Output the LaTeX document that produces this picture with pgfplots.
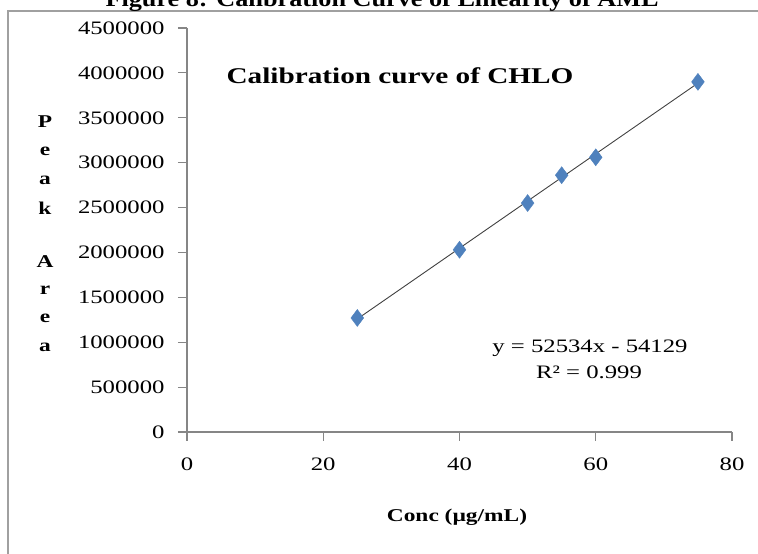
\documentclass[border=0pt]{standalone}
\usepackage{fontspec}
\setmainfont{Liberation Serif}[FakeStretch=1.3]
\newfontfamily\capfont{Liberation Serif}[FakeStretch=1.15]
\usepackage{pgfplots}
\pgfplotsset{compat=1.18}
\definecolor{axisgray}{RGB}{134,134,134}
\definecolor{markblue}{RGB}{79,129,189}
\definecolor{framegray}{RGB}{160,160,160}

\begin{document}
\begin{tikzpicture}[x=1pt,y=1pt]
\useasboundingbox (0,0) rectangle (758,554);
\clip (0,0) rectangle (758,554);
% chart area border
\draw[framegray, line width=2pt] (8,-5) -- (8,543) -- (765,543);
% figure caption above the chart
\node[font=\capfont\bfseries\fontsize{22.8}{22.8}\selectfont, anchor=base, inner sep=0pt] at (382,547)
  {Figure 8: Calibration Curve of Linearity of AML};
\begin{axis}[
  at={(187pt,122pt)}, anchor=south west,
  scale only axis, width=545pt, height=404pt,
  xmin=0, xmax=80, ymin=0, ymax=4500000,
  axis lines*=left,
  axis line style={axisgray, line width=1.2pt},
  every tick/.style={axisgray, line width=1.2pt},
  tick align=outside, major tick length=9pt,
  xtick={0,20,...,80},
  ytick={0,500000,...,4500000},
  scaled y ticks=false,
  /pgf/number format/fixed,
  /pgf/number format/1000 sep={},
  /pgf/number format/assume math mode=true,
  tick label style={font=\fontsize{19}{19}\selectfont, black},
  xticklabel style={yshift=-13pt},
  yticklabel style={xshift=-10pt},
  clip=false,
]
% least-squares line y = 52534x - 54129
\addplot[black!75, line width=0.9pt] coordinates {(25,1259221) (75,3885921)};
\addplot[only marks, mark=diamond*, mark size=8.5pt,
  mark options={draw=markblue, fill=markblue}] coordinates {
  (25,1270000) (40,2030000) (50,2550000) (55,2860000) (60,3060000) (75,3900000)
};
\end{axis}
% chart title
\node[font=\bfseries\fontsize{22.5}{22.5}\selectfont] at (400,478) {Calibration curve of CHLO};
% regression equation
\node[font=\fontsize{19}{19}\selectfont] at (590,206) {y = 52534x - 54129};
\node[font=\fontsize{19}{19}\selectfont] at (589,182) {R² = 0.999};
% axis titles
\node[font=\bfseries\fontsize{18}{18}\selectfont] at (457,37) {Conc (µg/mL)};
\begin{scope}[every node/.style={font=\bfseries\fontsize{18}{18}\selectfont}]
  \node at (45,432) {P};
  \node at (45,403) {e};
  \node at (45,374) {a};
  \node at (45,346) {k};
  \node at (45,292) {A};
  \node at (45,264) {r};
  \node at (45,236) {e};
  \node at (45,207) {a};
\end{scope}
\end{tikzpicture}
\end{document}
